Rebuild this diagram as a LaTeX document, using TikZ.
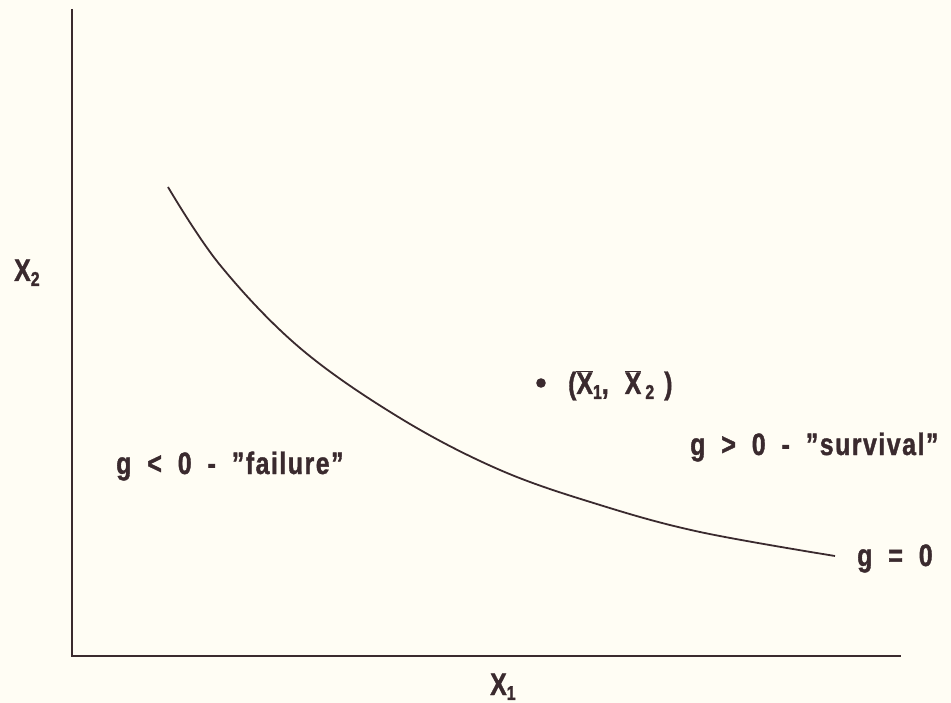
\documentclass[tikz,border=0pt]{standalone}
\usepackage{fontspec}
\newfontfamily\lab{Liberation Sans Bold}[FakeStretch=0.8,FakeBold=1.2,LetterSpace=5,Ligatures=TeX]
\definecolor{bg}{HTML}{FFFDF4}
\definecolor{ink}{HTML}{3A2A2E}
\newcommand{\sbs}[1]{\raisebox{-0.3ex}{\fontsize{20}{20}\selectfont #1}}
\newcommand{\xb}{\ensuremath{\overline{\mbox{X}}}}
\newcommand{\gap}{\hspace{16pt}}
\begin{document}
\begin{tikzpicture}[x=1pt,y=-1pt,
  lbl/.style={text=ink,font=\lab\fontsize{31}{36}\selectfont,inner sep=0pt},
  axis/.style={draw=ink,line width=2.4pt},
  curve/.style={draw=ink,line width=1.8pt}]
\fill[bg] (0,0) rectangle (951,703);
\useasboundingbox (0,0) rectangle (951,703);
\coordinate (top) at (72,9);
\coordinate (origin) at (72,656);
\coordinate (right) at (901,656);
\draw[axis] (top) -- (origin) -- (right);
\draw[curve] plot[smooth,tension=0.6] coordinates {(168,187) (220,265) (300,348) (400,418) (500,470) (600,505) (700,532) (835,556)};
\fill[ink] (541,383) circle (4.8pt) coordinate (pt);
\node[lbl,anchor=base west] (ptlab) at (568,394) {(\xb\sbs{1},\hspace{16pt}\xb\hspace{4pt}\sbs{2}\hspace{10pt})};
\node[lbl,anchor=base west] (x2) at (14,281) {X\sbs{2}};
\node[lbl,anchor=base west] (x1) at (490,695) {X\sbs{1}};
\node[lbl,anchor=base west] (fail) at (116,474) {g\gap<\gap0\gap-\gap''failure''};
\node[lbl,anchor=base west] (surv) at (690,455) {g\gap>\gap0\gap-\gap''survival''};
\node[lbl,anchor=base west] (geq) at (857,566) {g\gap=\gap0};
\end{tikzpicture}
\end{document}
